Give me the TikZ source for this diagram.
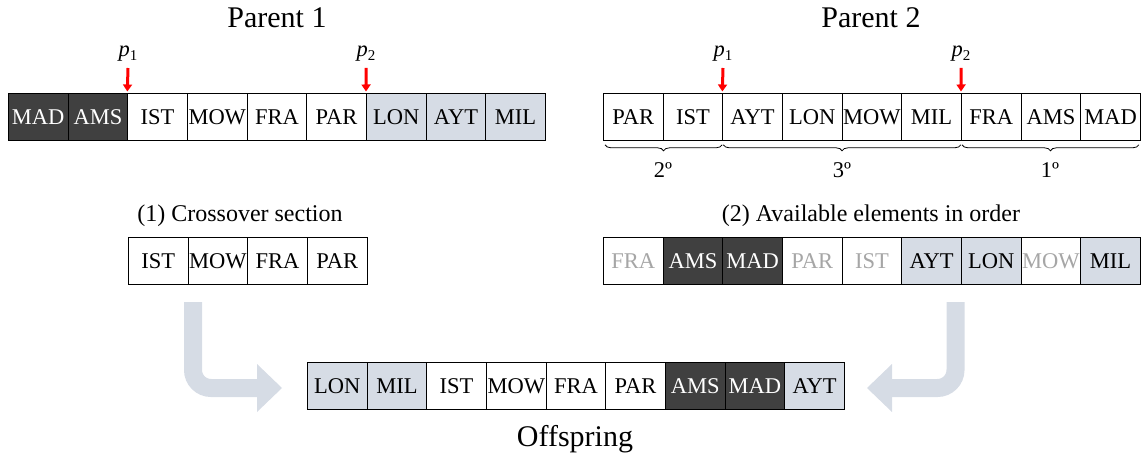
\documentclass[tikz,border=0pt]{standalone}
\usepackage{fontspec}
\setmainfont{Liberation Serif}
\usetikzlibrary{arrows.meta,decorations.pathreplacing}
\definecolor{darkc}{HTML}{404040}
\definecolor{lightc}{HTML}{D6DCE5}
\definecolor{fadec}{HTML}{A6A6A6}
\definecolor{arrowc}{HTML}{D6DCE5}
\newcommand{\pmark}[1]{{\itshape p}\raisebox{-4pt}{\fontsize{15}{15}\selectfont #1}}
\begin{document}
\begin{tikzpicture}[x=1pt,y=-1pt,
 cell/.style={draw=black,line width=0.8pt,minimum width=59.67pt,minimum height=47pt,inner sep=0pt,anchor=north west,font=\fontsize{22.5}{27}\selectfont},
 dk/.style={cell,fill=darkc,text=white},
 lt/.style={cell,fill=lightc},
 wt/.style={cell,fill=white},
 fd/.style={cell,fill=white,text=fadec},
 title/.style={font=\fontsize{30}{36}\selectfont},
 sub/.style={font=\fontsize{24}{29}\selectfont},
 plabel/.style={font=\fontsize{22.5}{27}\selectfont},
 cut/.style={draw=red,line width=3pt,-{Triangle[width=9pt,length=7pt]}},
 big/.style={draw=arrowc,line width=18pt,rounded corners=18pt},
 bighead/.style={fill=arrowc},
 brc/.style={decorate,decoration={brace,amplitude=6pt,mirror},line width=0.8pt},
]
\useasboundingbox (0,0) rectangle (1141,457);

% titles
\node[title] (t1) at (277,18) {Parent 1};
\node[title] (t2) at (871,18) {Parent 2};

% parent 1
\foreach \s/\t [count=\i from 0] in {dk/MAD,dk/AMS,wt/IST,wt/MOW,wt/FRA,wt/PAR,lt/LON,lt/AYT,lt/MIL}
  \node[\s] (pa\i) at ({8+59.67*\i},93) {\t};

% parent 2
\foreach \s/\t [count=\i from 0] in {wt/PAR,wt/IST,wt/AYT,wt/LON,wt/MOW,wt/MIL,wt/FRA,wt/AMS,wt/MAD}
  \node[\s] (pb\i) at ({603+59.67*\i},93) {\t};

% cut points
\node[plabel] (lpa1) at (128,54) {\pmark{1}};
\node[plabel] (lpa2) at (366,54) {\pmark{2}};
\node[plabel] (lpb1) at (723,54) {\pmark{1}};
\node[plabel] (lpb2) at (961,54) {\pmark{2}};
\coordinate (ca1) at (128,68);
\coordinate (ca2) at (366,68);
\coordinate (cb1) at (723,68);
\coordinate (cb2) at (961,68);
\draw[cut] (ca1) -- ([yshift=1.5pt]pa2.north west);
\draw[cut] (ca2) -- ([yshift=1.5pt]pa6.north west);
\draw[cut] (cb1) -- ([yshift=1.5pt]pb2.north west);
\draw[cut] (cb2) -- ([yshift=1.5pt]pb6.north west);

% braces
\draw[brc] ([xshift=2pt,yshift=-4pt]pb0.south west) -- ([xshift=-1pt,yshift=-4pt]pb1.south east);
\draw[brc] ([xshift=1pt,yshift=-4pt]pb2.south west) -- ([xshift=-1pt,yshift=-4pt]pb5.south east);
\draw[brc] ([xshift=1pt,yshift=-4pt]pb6.south west) -- ([xshift=-2pt,yshift=-4pt]pb8.south east);
\node[plabel] (o2) at (663,170) {2º};
\node[plabel] (o3) at (842,170) {3º};
\node[plabel] (o1) at (1050,170) {1º};

% crossover section
\node[sub] (s1) at (240,216) {(1) Crossover section};
\foreach \s/\t [count=\i from 0] in {wt/IST,wt/MOW,wt/FRA,wt/PAR}
  \node[\s] (cs\i) at ({128+59.67*\i},237) {\t};

% available elements
\node[sub] (s2) at (871,216) {(2) Available elements in order};
\foreach \s/\t [count=\i from 0] in {fd/FRA,dk/AMS,dk/MAD,fd/PAR,fd/IST,lt/AYT,lt/LON,fd/MOW,lt/MIL}
  \node[\s] (av\i) at ({603+59.67*\i},237) {\t};

% offspring
\foreach \s/\t [count=\i from 0] in {lt/LON,lt/MIL,wt/IST,wt/MOW,wt/FRA,wt/PAR,dk/AMS,dk/MAD,lt/AYT}
  \node[\s] (of\i) at ({307+59.67*\i},362) {\t};
\node[title] (ol) at (575,439) {Offspring};

% big arrows
\coordinate (la0) at (193,302);
\coordinate (la1) at (193,388);
\coordinate (la2) at (259,388);
\draw[big] (la0) -- (la1) -- (la2);
\fill[bighead] (257,364) -- (282,388) -- (257,412) -- cycle;

\coordinate (ra0) at (955.5,302);
\coordinate (ra1) at (955.5,388);
\coordinate (ra2) at (890,388);
\draw[big] (ra0) -- (ra1) -- (ra2);
\fill[bighead] (892,364) -- (867,388) -- (892,412) -- cycle;
\end{tikzpicture}
\end{document}
